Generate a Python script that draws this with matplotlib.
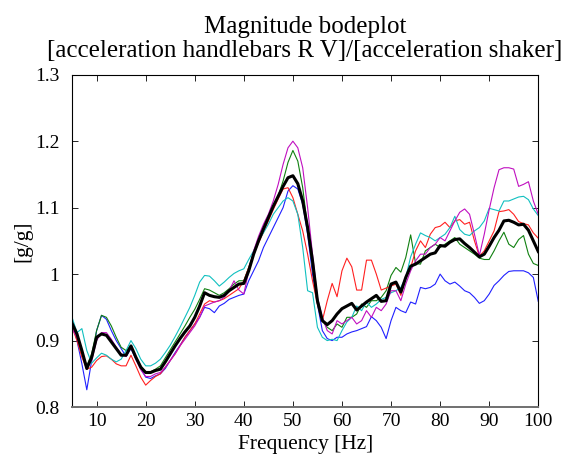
import numpy as np
import matplotlib
matplotlib.use("Agg")
import matplotlib.pyplot as plt
from matplotlib.ticker import FuncFormatter

# Frequency grid (Hz), one point per Hz
freq = np.arange(5, 101)

# Individual measurements of |H| = a_handlebar / a_shaker, 5..100 Hz
meas_blue = [
    0.930, 0.900, 0.865, 0.826, 0.870, 0.915, 0.938, 0.932, 0.915, 0.900,
    0.888, 0.876, 0.888, 0.872, 0.858, 0.845, 0.843, 0.847, 0.850, 0.858,
    0.870, 0.882, 0.893, 0.905, 0.915, 0.925, 0.935, 0.950, 0.948, 0.942,
    0.952, 0.956, 0.962, 0.965, 0.968, 0.970, 0.990, 1.005, 1.020, 1.040,
    1.055, 1.070, 1.085, 1.100, 1.125, 1.133, 1.128, 1.105, 1.060, 1.000,
    0.955, 0.915, 0.903, 0.900, 0.905, 0.905, 0.910, 0.913, 0.915, 0.918,
    0.921, 0.936, 0.930, 0.920, 0.903, 0.930, 0.950, 0.945, 0.942, 0.958,
    0.955, 0.980, 0.978, 0.980, 0.985, 1.000, 0.990, 0.985, 0.988, 0.982,
    0.975, 0.972, 0.965, 0.956, 0.960, 0.970, 0.983, 0.990, 0.998, 1.004,
    1.005, 1.005, 1.005, 1.002, 0.995, 0.959,
]
meas_green = [
    0.925, 0.905, 0.880, 0.862, 0.880, 0.915, 0.938, 0.935, 0.922, 0.905,
    0.890, 0.885, 0.892, 0.876, 0.862, 0.852, 0.853, 0.857, 0.862, 0.874,
    0.886, 0.898, 0.910, 0.922, 0.935, 0.947, 0.962, 0.978, 0.976, 0.972,
    0.968, 0.972, 0.978, 0.985, 0.990, 0.990, 1.010, 1.032, 1.052, 1.070,
    1.085, 1.100, 1.118, 1.140, 1.168, 1.186, 1.170, 1.130, 1.070, 1.010,
    0.960, 0.930, 0.920, 0.915, 0.925, 0.920, 0.935, 0.935, 0.940, 0.955,
    0.950, 0.960, 0.960, 0.965, 0.975, 0.998, 1.010, 1.003, 1.025, 1.059,
    1.016, 1.015, 1.035, 1.040, 1.045, 1.040, 1.045, 1.050, 1.055, 1.045,
    1.040, 1.035, 1.030, 1.024, 1.022, 1.022, 1.035, 1.050, 1.063, 1.045,
    1.040, 1.052, 1.058, 1.030, 1.016, 1.013,
]
meas_red = [
    0.920, 0.900, 0.875, 0.857, 0.860, 0.870, 0.876, 0.877, 0.872, 0.865,
    0.862, 0.862, 0.878, 0.862, 0.845, 0.833, 0.840, 0.846, 0.850, 0.860,
    0.870, 0.880, 0.892, 0.905, 0.915, 0.925, 0.940, 0.955, 0.960, 0.958,
    0.960, 0.963, 0.968, 0.973, 0.978, 0.990, 1.010, 1.030, 1.047, 1.063,
    1.080, 1.097, 1.113, 1.128, 1.130, 1.115, 1.090, 1.065, 1.030, 0.990,
    0.955, 0.930, 0.960, 0.986, 0.966, 1.005, 1.024, 1.011, 0.976, 0.976,
    1.021, 1.021, 1.000, 0.976, 0.979, 0.982, 0.985, 0.968, 0.995, 1.010,
    1.035, 1.050, 1.040, 1.060, 1.070, 1.072, 1.078, 1.070, 1.080, 1.082,
    1.075, 1.078, 1.050, 1.027, 1.035, 1.050, 1.065, 1.094, 1.095, 1.097,
    1.090, 1.079, 1.076, 1.074, 1.062, 1.054,
]
meas_cyan = [
    0.935, 0.912, 0.918, 0.885, 0.866, 0.874, 0.881, 0.878, 0.872, 0.868,
    0.872, 0.885, 0.900, 0.888, 0.872, 0.862, 0.862, 0.866, 0.872, 0.882,
    0.893, 0.906, 0.920, 0.935, 0.950, 0.968, 0.988, 0.998, 0.997, 0.990,
    0.982, 0.988, 0.995, 1.001, 1.005, 1.008, 1.022, 1.035, 1.050, 1.062,
    1.075, 1.090, 1.100, 1.110, 1.115, 1.110, 1.090, 1.040, 0.975, 0.972,
    0.920, 0.905, 0.900, 0.902, 0.900, 0.915, 0.928, 0.935, 0.952, 0.945,
    0.958, 0.950, 0.955, 0.962, 0.965, 0.972, 0.975, 0.980, 0.995, 1.026,
    1.045, 1.062, 1.058, 1.055, 1.050, 1.055, 1.060, 1.070, 1.087, 1.067,
    1.060, 1.058, 1.065, 1.070, 1.080, 1.099, 1.097, 1.095, 1.110, 1.110,
    1.113, 1.116, 1.117, 1.112, 1.098, 1.088,
]
meas_magenta = [
    0.918, 0.905, 0.885, 0.862, 0.870, 0.900, 0.912, 0.912, 0.902, 0.890,
    0.880, 0.876, 0.890, 0.872, 0.856, 0.846, 0.846, 0.850, 0.852, 0.860,
    0.870, 0.880, 0.892, 0.902, 0.912, 0.922, 0.935, 0.952, 0.955, 0.958,
    0.960, 0.965, 0.975, 0.990, 0.976, 0.970, 1.005, 1.035, 1.057, 1.075,
    1.090, 1.110, 1.135, 1.165, 1.190, 1.200, 1.190, 1.160, 1.100, 1.030,
    0.965, 0.935, 0.915, 0.910, 0.930, 0.925, 0.930, 0.935, 0.925, 0.930,
    0.945, 0.935, 0.950, 0.945, 0.955, 0.975, 0.975, 0.960, 0.985, 1.005,
    1.020, 1.030, 1.030, 1.040, 1.045, 1.055, 1.050, 1.065, 1.080, 1.093,
    1.098, 1.090, 1.060, 1.028, 1.060, 1.097, 1.130, 1.157, 1.160, 1.160,
    1.158, 1.132, 1.135, 1.139, 1.110, 1.090,
]
# Average transfer function
mean_tf = [
    0.926, 0.910, 0.885, 0.858, 0.875, 0.905, 0.910, 0.908, 0.898, 0.888,
    0.878, 0.878, 0.892, 0.875, 0.860, 0.852, 0.852, 0.855, 0.857, 0.868,
    0.880, 0.892, 0.903, 0.913, 0.922, 0.935, 0.952, 0.972, 0.968, 0.966,
    0.965, 0.968, 0.975, 0.980, 0.985, 0.986, 1.005, 1.030, 1.050, 1.068,
    1.085, 1.102, 1.117, 1.132, 1.145, 1.148, 1.136, 1.110, 1.070, 1.020,
    0.960, 0.930, 0.924, 0.930, 0.940, 0.948, 0.952, 0.956, 0.946, 0.952,
    0.958, 0.963, 0.968, 0.959, 0.960, 0.985, 0.988, 0.973, 0.995, 1.012,
    1.015, 1.020, 1.025, 1.030, 1.032, 1.043, 1.042, 1.048, 1.052, 1.053,
    1.046, 1.040, 1.033, 1.026, 1.030, 1.042, 1.055, 1.066, 1.080, 1.081,
    1.078, 1.074, 1.075, 1.066, 1.050, 1.034,
]

x_ticks = [10, 20, 30, 40, 50, 60, 70, 80, 90, 100]
y_ticks = [0.8, 0.9, 1.0, 1.1, 1.2, 1.3]

plt.rcParams["font.family"] = ["Liberation Serif", "DejaVu Serif"]

fig = plt.figure(figsize=(5.72, 4.61), dpi=100)
ax = fig.add_axes([0.126, 0.117, 0.815, 0.721])

series = [
    (meas_blue, "#2020ff"),
    (meas_green, "#108010"),
    (meas_red, "#ff2020"),
    (meas_cyan, "#10c0c0"),
    (meas_magenta, "#c010c0"),
]
for vals, col in series:
    ax.plot(freq, vals, color=col, lw=0.8)
ax.plot(freq, mean_tf, color="black", lw=2.2)

ax.set_xlim(5, 100)
ax.set_ylim(0.8, 1.3)
ax.set_xticks(x_ticks)
ax.set_yticks(y_ticks)
ax.yaxis.set_major_formatter(FuncFormatter(lambda v, p: f"{v:g}"))
ax.tick_params(direction="in", length=4, width=0.6, top=True, right=True,
               labelsize=14)
ax.tick_params(axis="x", pad=4)
ax.tick_params(axis="y", pad=9)
for s in ax.spines.values():
    s.set_linewidth(0.8)
ax.spines["bottom"].set_color("#707070")
ax.spines["bottom"].set_linewidth(1.4)

ax.set_title("Magnitude bodeplot\n[acceleration handlebars R V]/[acceleration shaker]",
             fontsize=18, linespacing=1.08, pad=13)
ax.set_xlabel("Frequency [Hz]", fontsize=15.5, labelpad=4)
ax.set_ylabel("[g/g]", fontsize=15.5, labelpad=2)

fig.savefig("out.png", dpi=100)
